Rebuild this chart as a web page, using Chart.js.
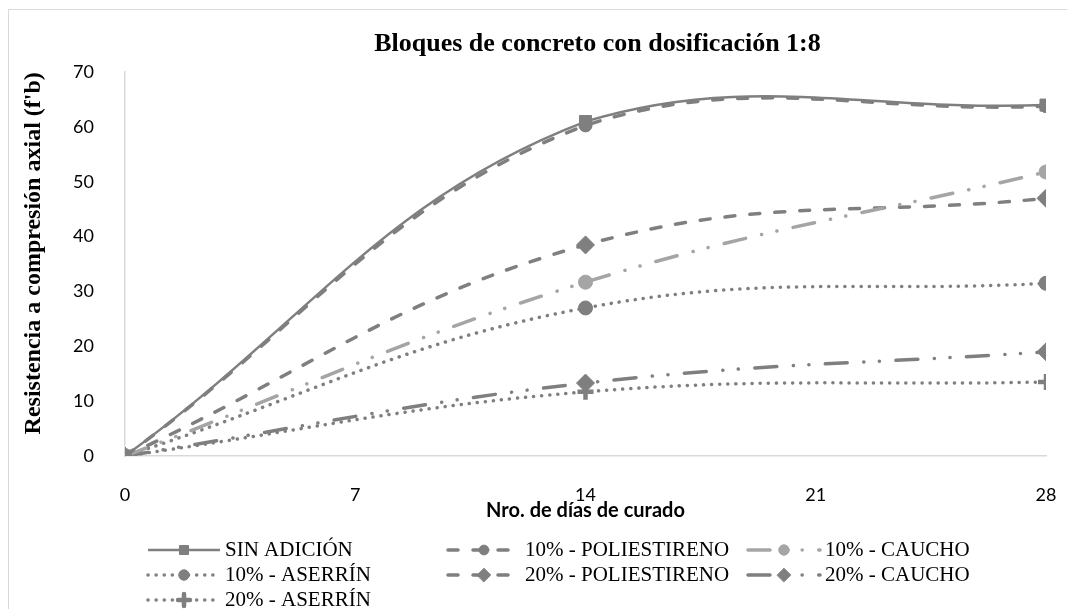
<!DOCTYPE html>
<html>
<head>
<meta charset="utf-8">
<script src="https://cdn.jsdelivr.net/npm/chart.js@4/dist/chart.umd.min.js"></script>
<style>
  html, body { margin: 0; padding: 0; background: #fff; }
  #c { display: block; }
</style>
</head>
<body>
<canvas id="c" width="1067" height="609"></canvas>
<script>
// ---- data ----
const chartTitle = 'Bloques de concreto con dosificación 1:8';
const xTitle = 'Nro. de días de curado';
const yTitle = "Resistencia a compresión axial (f'b)";
const days = [0, 14, 28];
const xTickValues = [0, 7, 14, 21, 28];
const yTickValues = [0, 10, 20, 30, 40, 50, 60, 70];
const seriesNames = ['SIN ADICIÓN', '10% - POLIESTIRENO', '10% - CAUCHO', '10% - ASERRÍN', '20% - POLIESTIRENO', '20% - CAUCHO', '20% - ASERRÍN'];
const sinAdicion   = [0, 61.0, 64.0];
const poli10       = [0, 60.3, 63.8];
const caucho10     = [0, 31.7, 51.8];
const aserrin10    = [0, 27.0, 31.5];
const poli20       = [0, 38.5, 47.0];
const caucho20     = [0, 13.3, 19.0];
const aserrin20    = [0, 11.7, 13.5];

// ---- styles ----
const DARK = '#7f7f7f', LIGHT = '#a5a5a5';
const DASH = [10, 15];
const LDASHDOTDOT = [22, 16.5, 0.1, 15.5, 0.1, 16.5];
const DOT = [0.1, 8];
const styles = [
  { color: DARK,  width: 2.5, dash: [],          cap: 'butt',  point: 'rect',    r: 8.5, pbw: 1 },
  { color: DARK,  width: 3.5, dash: DASH,        cap: 'round', point: 'circle',  r: 6.5, pbw: 1 },
  { color: LIGHT, width: 3.5, dash: LDASHDOTDOT, cap: 'round', point: 'circle',  r: 7,   pbw: 1 },
  { color: DARK,  width: 3.5, dash: DOT,         cap: 'round', point: 'circle',  r: 7,   pbw: 1 },
  { color: DARK,  width: 3.5, dash: DASH,        cap: 'round', point: 'rectRot', r: 9,   pbw: 1 },
  { color: DARK,  width: 3.5, dash: LDASHDOTDOT, cap: 'round', point: 'rectRot', r: 9,   pbw: 1 },
  { color: DARK,  width: 3.5, dash: DOT,         cap: 'round', point: 'cross',   r: 8,   pbw: 4.5 }
];
const seriesValues = [sinAdicion, poli10, caucho10, aserrin10, poli20, caucho20, aserrin20];

const datasets = seriesValues.map((vals, i) => {
  const s = styles[i];
  return {
    label: seriesNames[i],
    data: days.map((d, k) => ({ x: d, y: vals[k] })),
    borderColor: s.color,
    backgroundColor: s.color,
    borderWidth: s.width,
    borderDash: s.dash,
    borderCapStyle: s.cap,
    pointStyle: s.point,
    pointRadius: s.r,
    pointHoverRadius: s.r,
    pointBackgroundColor: s.color,
    pointBorderColor: s.color,
    pointBorderWidth: s.pbw,
    tension: 0.4,
    fill: false,
    order: i
  };
});

const frame = {
  id: 'frame',
  beforeDraw(chart) {
    const ctx = chart.ctx;
    ctx.save();
    ctx.fillStyle = '#fff';
    ctx.fillRect(0, 0, chart.width, chart.height);
    ctx.strokeStyle = '#d9d9d9';
    ctx.lineWidth = 1;
    ctx.strokeRect(8.5, 9.5, 1070, 620);
    ctx.restore();
  }
};

const titleShift = {
  id: 'titleShift',
  afterLayout(chart) {
    const t = chart.titleBlock;
    if (t) { t.left += 12; t.right += 12; }
  }
};

const LEG_X0 = 148, LEG_COL = 300, LEG_Y0 = 550, LEG_ROW = 25, LEG_SAMPLE = 72;
const gridLegend = {
  id: 'gridLegend',
  afterDraw(chart) {
    const ctx = chart.ctx;
    chart.data.datasets.forEach((ds, i) => {
      const col = i % 3, row = Math.floor(i / 3);
      const x0 = LEG_X0 + col * LEG_COL, y = LEG_Y0 + row * LEG_ROW;
      ctx.save();
      ctx.strokeStyle = ds.borderColor;
      ctx.lineWidth = ds.borderWidth;
      ctx.lineCap = ds.borderCapStyle;
      ctx.setLineDash(ds.borderDash);
      ctx.beginPath();
      ctx.moveTo(x0, y);
      ctx.lineTo(x0 + LEG_SAMPLE, y);
      ctx.stroke();
      ctx.setLineDash([]);
      ctx.fillStyle = ds.pointBackgroundColor;
      ctx.strokeStyle = ds.pointBorderColor;
      ctx.lineWidth = ds.pointBorderWidth;
      Chart.helpers.drawPoint(ctx, {
        pointStyle: ds.pointStyle, rotation: 0,
        radius: ds.pointRadius * 0.75, borderWidth: ds.pointBorderWidth * 0.8
      }, x0 + LEG_SAMPLE / 2, y);
      ctx.fillStyle = '#000';
      ctx.font = '21px "Liberation Serif", "Times New Roman", serif';
      ctx.textBaseline = 'middle';
      ctx.textAlign = 'left';
      ctx.fillText(ds.label, x0 + LEG_SAMPLE + 5, y);
      ctx.restore();
    });
  }
};

new Chart(document.getElementById('c'), {
  type: 'line',
  data: { datasets },
  plugins: [frame, titleShift, gridLegend],
  options: {
    responsive: false,
    animation: false,
    devicePixelRatio: 1,
    layout: { padding: { left: 0, right: 21, top: 0, bottom: 83 } },
    plugins: {
      legend: { display: false },
      tooltip: { enabled: false },
      title: {
        display: true,
        text: chartTitle,
        fullSize: false,
        color: '#000',
        font: { family: '"Liberation Serif", "Times New Roman", serif', size: 26, weight: 'bold', lineHeight: 1.2 },
        padding: { top: 29, bottom: 12 }
      }
    },
    scales: {
      x: {
        type: 'linear',
        min: 0, max: 28,
        afterBuildTicks: (s) => { s.ticks = xTickValues.map(v => ({ value: v })); },
        afterFit: (s) => { s.height = 70; s.paddingLeft = 0; s.paddingRight = 0; },
        grid: { display: false },
        border: { display: true, color: '#d9d9d9', width: 1.5 },
        ticks: { color: '#000', padding: 20, font: { family: 'Lato, "Open Sans", sans-serif', size: 18 }, maxRotation: 0 },
        title: {
          display: true, text: xTitle, color: '#000',
          font: { family: 'Lato, "Open Sans", sans-serif', size: 20, weight: 'bold', lineHeight: 1.2 },
          padding: { top: 0, bottom: 3 }
        }
      },
      y: {
        min: 0, max: 70,
        afterBuildTicks: (s) => { s.ticks = yTickValues.map(v => ({ value: v })); },
        afterFit: (s) => { s.width = 125; s.paddingTop = 0; s.paddingBottom = 0; },
        grid: { display: false },
        border: { display: true, color: '#d9d9d9', width: 1.5 },
        ticks: { color: '#000', padding: 23, font: { family: 'Lato, "Open Sans", sans-serif', size: 18 } },
        title: {
          display: true, text: yTitle, color: '#000', align: 'end',
          font: { family: '"Liberation Serif", "Times New Roman", serif', size: 24, weight: 'bold', lineHeight: 1.2 },
          padding: { top: 19, bottom: 0 }
        }
      }
    }
  }
});
</script>
</body>
</html>
